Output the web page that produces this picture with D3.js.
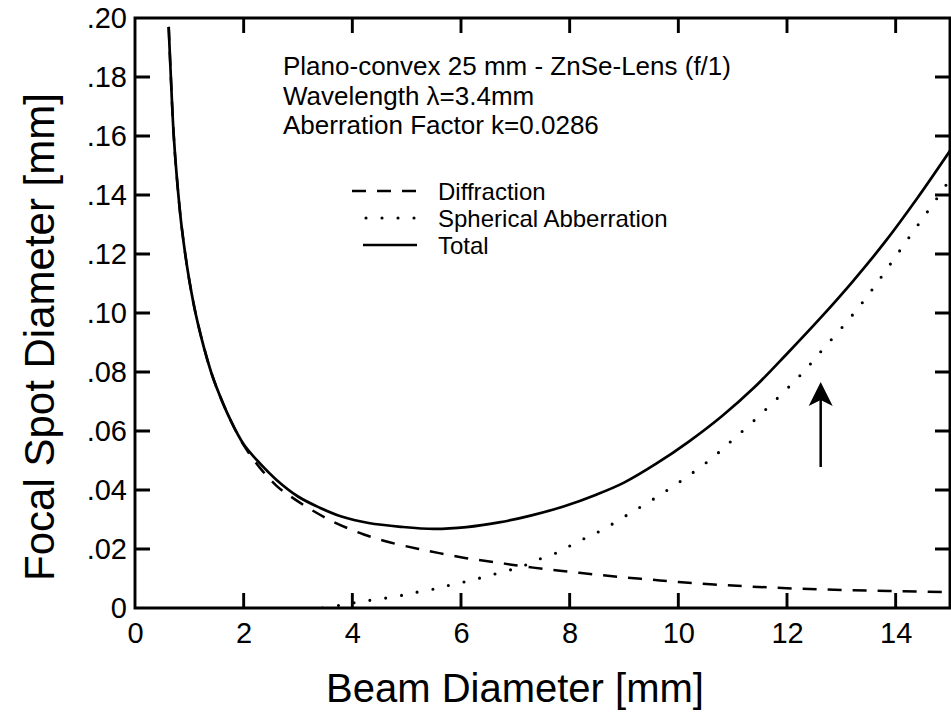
<!DOCTYPE html>
<html><head><meta charset="utf-8">
<script src="https://cdn.jsdelivr.net/npm/d3@7"></script>
<style>
html,body{margin:0;padding:0;background:#fff;}
svg text{font-family:"Liberation Sans",Arial,Helvetica,sans-serif;fill:#000;}
</style></head>
<body>
<svg id="chart" width="951" height="716"></svg>
<script>
// ---- data ----
const totalX = [0.62,0.66,0.71,0.77,0.86,1.0,1.15,1.4,1.55,1.75,2.0,2.3,2.6,3.0,3.4,3.8,4.3,4.9,5.5,6.1,6.7,7.3,7.9,8.5,9.0,9.6,10.2,10.8,11.4,12.0,12.6,13.2,13.8,14.4,15.0];
const totalY = [0.197,0.180,0.161,0.146,0.129,0.111,0.097,0.080,0.0725,0.064,0.0555,0.049,0.0435,0.0378,0.034,0.031,0.0288,0.0275,0.0268,0.0274,0.029,0.0314,0.0345,0.0385,0.0425,0.049,0.0565,0.065,0.0748,0.0862,0.098,0.1105,0.124,0.139,0.155];

const diffX = [0.62,0.66,0.71,0.77,0.86,1.0,1.15,1.4,1.55,1.75,2.0,2.3,2.6,2.85,3.3,3.7,4.2,4.7,5.2,5.6,6.1,6.6,7.0,7.5,8.0,8.5,9.0,9.5,10.0,11.0,12.0,13.0,14.0,15.0];
const diffY = [0.197,0.180,0.161,0.146,0.129,0.111,0.097,0.080,0.0725,0.064,0.0552,0.0475,0.0415,0.038,0.0327,0.0288,0.025,0.0222,0.0201,0.0186,0.0169,0.0156,0.0145,0.0133,0.0123,0.0113,0.0104,0.0096,0.0088,0.0076,0.0067,0.0061,0.0057,0.0054];

const sphX = [3.45,3.8,4.1,4.4,4.7,5.0,5.25,5.55,5.8,6.1,6.4,6.7,7.0,7.25,7.5,7.8,8.05,8.3,8.6,9.1,9.6,10.1,10.6,11.0,11.45,11.9,12.3,12.65,13.1,13.45,13.75,14.25,14.6,14.95,15.0];
const sphY = [0.0,0.001,0.002,0.0028,0.0036,0.0046,0.0056,0.0066,0.0078,0.009,0.0104,0.0119,0.0134,0.015,0.017,0.019,0.0215,0.0238,0.0265,0.032,0.0376,0.0437,0.0505,0.057,0.0645,0.0725,0.080,0.0875,0.097,0.105,0.1126,0.1257,0.1347,0.144,0.1455];

const xTicks = [0,2,4,6,8,10,12,14];
const yTicks = [0,0.02,0.04,0.06,0.08,0.10,0.12,0.14,0.16,0.18,0.20];
const yTickLabels = ["0",".02",".04",".06",".08",".10",".12",".14",".16",".18",".20"];

const annotLines = ["Plano-convex 25 mm - ZnSe-Lens (f/1)","Wavelength \u03BB=3.4mm","Aberration Factor k=0.0286"];
const legendLabels = ["Diffraction","Spherical Abberration","Total"];
const arrowX = 12.62, arrowFrom = 0.0478, arrowTo = 0.0766;

const xTitle = "Beam Diameter [mm]";
const yTitle = "Focal Spot Diameter [mm]";

// ---- layout ----
const L = 135, R = 950, T = 18, B = 608;
const svg = d3.select("#chart");
const x = d3.scaleLinear().domain([0,15]).range([L,R]);
const y = d3.scaleLinear().domain([0,0.2]).range([B,T]);

svg.append("defs").append("clipPath").attr("id","clip")
  .append("rect").attr("x",L).attr("y",T-2).attr("width",R-L).attr("height",B-T+2);

const line = d3.line().x(d=>x(d[0])).y(d=>y(d[1])).curve(d3.curveCatmullRom.alpha(0.5));
const g = svg.append("g").attr("clip-path","url(#clip)");

g.append("path").datum(diffX.map((v,i)=>[v,diffY[i]]))
  .attr("d",line).attr("fill","none").attr("stroke","#000")
  .attr("stroke-width",2.5).attr("stroke-dasharray","14,11");
g.append("path").datum(sphX.map((v,i)=>[v,sphY[i]]))
  .attr("d",line).attr("fill","none").attr("stroke","#000")
  .attr("stroke-width",3.1).attr("stroke-linecap","round").attr("stroke-dasharray","0,16");
g.append("path").datum(totalX.map((v,i)=>[v,totalY[i]]))
  .attr("d",line).attr("fill","none").attr("stroke","#000")
  .attr("stroke-width",2.7);

// axis labels via d3 axes
const axB = svg.append("g").attr("transform",`translate(0,${B})`)
  .call(d3.axisBottom(x).tickValues(xTicks).tickSize(0).tickPadding(14).tickFormat(d3.format("d")));
const axL = svg.append("g").attr("transform",`translate(${L},0)`)
  .call(d3.axisLeft(y).tickValues(yTicks).tickSize(0).tickPadding(8).tickFormat((d,i)=>yTickLabels[i]));
[axB,axL].forEach(a=>{
  a.select(".domain").remove();
  a.selectAll(".tick line").remove();
  a.selectAll("text").attr("font-size",29).attr("fill","#000")
    .style("font-family","'Liberation Sans',Arial,sans-serif");
});
axB.selectAll("text").attr("dy","0.71em");
axL.selectAll("text").attr("dy","0.34em");

// frame and inward tick marks in one path, positioned by the scales
const tickLen = 15;
const xIn = xTicks.filter(d=>d>0);
const yIn = yTicks.filter(d=>d>0 && d<0.2);
const fp = d3.path();
fp.moveTo(L,T); fp.lineTo(R,T); fp.lineTo(R,B); fp.lineTo(L,B); fp.closePath();
xIn.forEach(d=>{
  fp.moveTo(x(d),B); fp.lineTo(x(d),B-tickLen);
  fp.moveTo(x(d),T); fp.lineTo(x(d),T+tickLen);
});
yIn.forEach(d=>{
  fp.moveTo(L,y(d)); fp.lineTo(L+tickLen,y(d));
  fp.moveTo(R,y(d)); fp.lineTo(R-tickLen,y(d));
});
svg.append("path").attr("d",fp.toString()).attr("fill","none")
  .attr("stroke","#000").attr("stroke-width",2.9);

// titles
svg.append("text").attr("x",515).attr("y",702).attr("text-anchor","middle")
  .attr("font-size",40).text(xTitle);
svg.append("text").attr("transform",`translate(54,337) rotate(-90)`)
  .attr("text-anchor","middle").attr("font-size",42).text(yTitle);

// annotation block
annotLines.forEach((t,i)=>{
  svg.append("text").attr("x",283).attr("y",75+i*29.5).attr("font-size",26).text(t);
});

// legend
const legY = [191,218,245];
const legStart = [352,366,363];
const legStyles = [
  {dash:"14,11",w:2.5,cap:"butt"},
  {dash:"0,16",w:3.1,cap:"round"},
  {dash:null,w:2.7,cap:"butt"}
];
legendLabels.forEach((t,i)=>{
  const ln = svg.append("line").attr("x1",legStart[i]).attr("x2",417)
    .attr("y1",legY[i]).attr("y2",legY[i]).attr("stroke","#000")
    .attr("stroke-width",legStyles[i].w).attr("stroke-linecap",legStyles[i].cap);
  if(legStyles[i].dash) ln.attr("stroke-dasharray",legStyles[i].dash);
  svg.append("text").attr("x",438).attr("y",legY[i]+8.5).attr("font-size",24).text(t);
});

// arrow
const axX = x(arrowX), tipY = y(arrowTo);
svg.append("line").attr("x1",axX).attr("x2",axX)
  .attr("y1",y(arrowFrom)).attr("y2",tipY+10)
  .attr("stroke","#000").attr("stroke-width",2.5);
svg.append("path")
  .attr("d",`M${axX},${tipY} L${axX-12},${tipY+24} L${axX},${tipY+18} L${axX+12},${tipY+24} Z`)
  .attr("fill","#000");
</script>
</body></html>
